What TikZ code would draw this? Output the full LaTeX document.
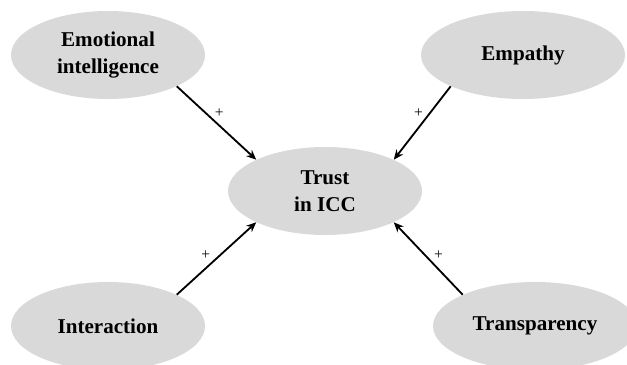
\documentclass[tikz,border=0pt]{standalone}
\usepackage{fontspec}
\setmainfont{Liberation Serif}
\usepackage{tikz}
\usetikzlibrary{shapes.geometric, arrows.meta}

\begin{document}
\begin{tikzpicture}[
    factor/.style={ellipse, fill=black!15, inner sep=0pt,
        minimum width=4.85cm, minimum height=2.2cm, align=center,
        font=\fontsize{15}{19}\selectfont\bfseries},
    wide/.style={minimum width=5.1cm},
    link/.style={line width=1.3pt, -{Stealth[length=7pt, width=6pt]}},
    sign/.style={font=\fontsize{11}{12}\selectfont, inner sep=1pt}
]

    % 画布大小
    \clip (0,0) rectangle (15.675,9.125);

    % ================= 因素 =================
    \node[factor] (emo) at (2.7, 7.75) {Emotional\\intelligence};
    \node[factor, wide] (emp) at (13.075, 7.75) {Empathy};
    \node[factor] (trust) at (8.125, 4.35) {Trust\\in ICC};
    \node[factor] (inter) at (2.7, 0.975) {Interaction};
    \node[factor, wide] (trans) at (13.375, 0.975) {Transparency};

    % ================= 箭头 =================
    \draw[link] (emo.south east) -- (trust.north west) node[sign, pos=0.45, above right] {+};
    \draw[link] (emp.south west) -- (trust.north east) node[sign, pos=0.45, above left] {+};
    \draw[link] (inter.north east) -- (trust.south west) node[sign, pos=0.45, above left] {+};
    \draw[link] (trans.north west) -- (trust.south east) node[sign, pos=0.45, above right] {+};

\end{tikzpicture}
\end{document}
